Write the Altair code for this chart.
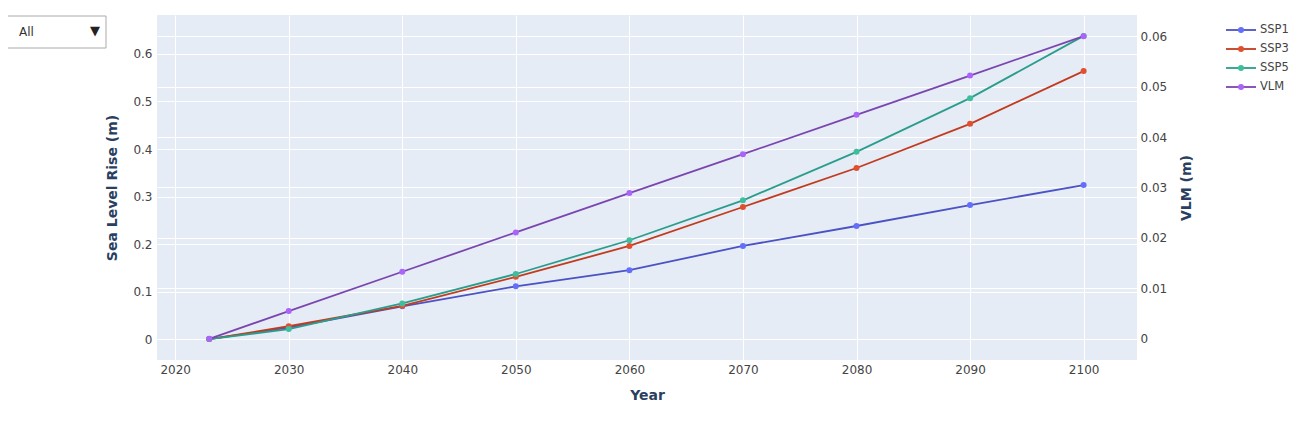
import altair as alt
import pandas as pd

years = [2023, 2030, 2040, 2050, 2060, 2070, 2080, 2090, 2100]
ssp1 = [0.0, 0.024, 0.069, 0.111, 0.145, 0.196, 0.238, 0.282, 0.324]
ssp3 = [0.0, 0.027, 0.070, 0.131, 0.196, 0.278, 0.360, 0.453, 0.564]
ssp5 = [0.0, 0.021, 0.075, 0.137, 0.208, 0.292, 0.394, 0.507, 0.638]
vlm = [0.0, 0.0055, 0.0133, 0.0211, 0.0289, 0.0366, 0.0444, 0.0522, 0.0600]

series_names = ["SSP1", "SSP3", "SSP5", "VLM"]
line_colors = ["#4a52c4", "#c23b1e", "#2a9d8c", "#7b45b0"]
marker_colors = ["#636efa", "#e0502f", "#3dbf9c", "#ab63fa"]
dropdown_options = ["All"]

x_ticks = [2020, 2030, 2040, 2050, 2060, 2070, 2080, 2090, 2100]
left_ticks = [0, 0.1, 0.2, 0.3, 0.4, 0.5, 0.6]
right_ticks = [0, 0.01, 0.02, 0.03, 0.04, 0.05, 0.06]

rows = []
for name, vals in zip(["SSP1", "SSP3", "SSP5"], [ssp1, ssp3, ssp5]):
    for y, v in zip(years, vals):
        rows.append({"year": y, "series": name, "value": v})
ssp_df = pd.DataFrame(rows)
vlm_df = pd.DataFrame({"year": years, "series": "VLM", "value": vlm})
legend_df = pd.DataFrame({"series": series_names})
dd_df = pd.DataFrame({"label": dropdown_options})

FONT = "DejaVu Sans"
TICK_COLOR = "#444444"
TITLE_COLOR = "#2a3f5f"

x_enc = alt.X(
    "year:Q",
    scale=alt.Scale(domain=[2018.4, 2104.7], nice=False, zero=False),
    axis=alt.Axis(values=x_ticks, format="d", title="Year", grid=True,
                  gridColor="white", gridWidth=1, domain=False, ticks=False,
                  labelPadding=4, titlePadding=13, labelFont=FONT, labelFontSize=12,
                  labelColor=TICK_COLOR, titleFont=FONT, titleFontSize=14,
                  titleFontWeight="bold", titleColor=TITLE_COLOR),
)

line_scale = alt.Scale(domain=series_names, range=line_colors)
marker_scale = alt.Scale(domain=series_names, range=marker_colors)

left_axis = alt.Axis(values=left_ticks, format=".1~f", title="Sea Level Rise (m)",
                     orient="left", grid=True, gridColor="white", gridWidth=1,
                     domain=False, ticks=False, labelPadding=5, titlePadding=13,
                     labelFont=FONT, labelFontSize=12, labelColor=TICK_COLOR,
                     titleFont=FONT, titleFontSize=14, titleFontWeight="bold",
                     titleColor=TITLE_COLOR)
right_axis = alt.Axis(values=right_ticks, format=".2~f", title="VLM (m)",
                      orient="right", grid=True, gridColor="white", gridWidth=1,
                      domain=False, ticks=False, labelPadding=3, titlePadding=27,
                      titleAngle=270,
                      labelFont=FONT, labelFontSize=12, labelColor=TICK_COLOR,
                      titleFont=FONT, titleFontSize=14, titleFontWeight="bold",
                      titleColor=TITLE_COLOR)

y_left = alt.Y("value:Q", scale=alt.Scale(domain=[-0.044, 0.682], nice=False, zero=False), axis=left_axis)
y_right = alt.Y("value:Q", scale=alt.Scale(domain=[-0.0042, 0.0642], nice=False, zero=False), axis=right_axis)

ssp_line = alt.Chart(ssp_df).mark_line(strokeWidth=1.8).encode(
    x=x_enc, y=y_left, color=alt.Color("series:N", scale=line_scale, legend=None))
ssp_pts = alt.Chart(ssp_df).mark_circle(size=36, opacity=1).encode(
    x=x_enc, y=y_left, color=alt.Color("series:N", scale=marker_scale, legend=None))
ssp = alt.layer(ssp_line, ssp_pts).resolve_scale(color="independent")

vlm_line = alt.Chart(vlm_df).mark_line(strokeWidth=1.8).encode(
    x=x_enc, y=y_right, color=alt.Color("series:N", scale=line_scale, legend=None))
vlm_pts = alt.Chart(vlm_df).mark_circle(size=36, opacity=1).encode(
    x=x_enc, y=y_right, color=alt.Color("series:N", scale=marker_scale, legend=None))
vlm_layer = alt.layer(vlm_line, vlm_pts).resolve_scale(color="independent")

leg_y = alt.Y("series:N", scale=alt.Scale(type="point", domain=series_names, range=[15, 72], padding=0), axis=None)
leg_rule = alt.Chart(legend_df).mark_rule(strokeWidth=1.8).encode(
    x=alt.value(1069), x2=alt.value(1099), y=leg_y,
    color=alt.Color("series:N", scale=line_scale, legend=None))
leg_pt = alt.Chart(legend_df).mark_circle(size=36, opacity=1).encode(
    x=alt.value(1084), y=leg_y,
    color=alt.Color("series:N", scale=marker_scale, legend=None))
leg_txt = alt.Chart(legend_df).mark_text(align="left", baseline="middle", font=FONT,
                                         fontSize=11.5, color=TICK_COLOR).encode(
    x=alt.value(1103), y=leg_y, text="series:N")
legend = alt.layer(leg_rule, leg_pt, leg_txt).resolve_scale(color="independent")

dd_rect = alt.Chart(dd_df).mark_rect(fill="white", stroke="#aaaaaa", strokeWidth=1).encode(
    x=alt.value(-150), x2=alt.value(-51), y=alt.value(1), y2=alt.value(33))
dd_txt = alt.Chart(dd_df).mark_text(align="left", baseline="middle", font=FONT,
                                    fontSize=12, color="#333333").encode(
    x=alt.value(-138), y=alt.value(17), text="label:N")
dd_arrow = alt.Chart(dd_df).mark_text(align="center", baseline="middle", font=FONT,
                                      fontSize=13, color="#222222", text="▼").encode(
    x=alt.value(-62), y=alt.value(16))
dropdown = alt.layer(dd_rect, dd_txt, dd_arrow)

chart = alt.layer(ssp, vlm_layer, legend, dropdown).resolve_scale(
    y="independent", color="independent"
).properties(
    width=980, height=345,
    autosize=alt.AutoSizeParams(type="none"),
    padding={"left": 149, "top": 7, "right": 157, "bottom": 50},
    background="white",
).configure_view(fill="#E5ECF6", stroke=None)

chart.save("out.html", embed_options={"renderer": "svg", "actions": False})
